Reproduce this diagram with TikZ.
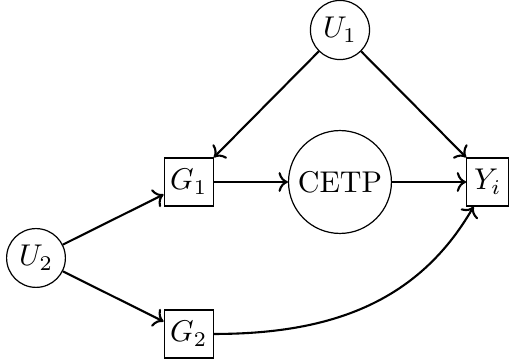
\documentclass[tikz,border=0pt]{standalone}
\usetikzlibrary{arrows.meta}
\begin{document}
\begin{tikzpicture}[x=1pt,y=1pt,
  circnode/.style={draw,circle,inner sep=2pt,line width=0.4pt},
  boxnode/.style={draw,rectangle,inner sep=2pt,line width=0.4pt},
  edge/.style={->,line width=0.7pt}]
\useasboundingbox (0,0) rectangle (169.67,-120);
\node[circnode,minimum size=19.7pt] (U1) at (113.33,-10) {$U_1$};
\node[boxnode,minimum width=16pt,minimum height=16pt] (G1) at (62.9,-60.67) {$G_1$};
\node[circnode,minimum size=34.3pt] (C) at (113.33,-60.67) {CETP};
\node[boxnode,minimum width=14pt,minimum height=16pt] (Y) at (162.6,-60.67) {$Y_i$};
\node[circnode,minimum size=19pt] (U2) at (12,-86) {$U_2$};
\node[boxnode,minimum width=16pt,minimum height=16pt] (G2) at (62.9,-111.33) {$G_2$};
\draw[edge] (U1) -- (G1.north east);
\draw[edge] (U1) -- (Y.north west);
\draw[edge] (G1) -- (C);
\draw[edge] (C) -- (Y);
\draw[edge] (U2) -- (G1);
\draw[edge] (U2) -- (G2);
\draw[edge] (G2) to[out=0,in=-120] (Y);
\end{tikzpicture}
\end{document}
